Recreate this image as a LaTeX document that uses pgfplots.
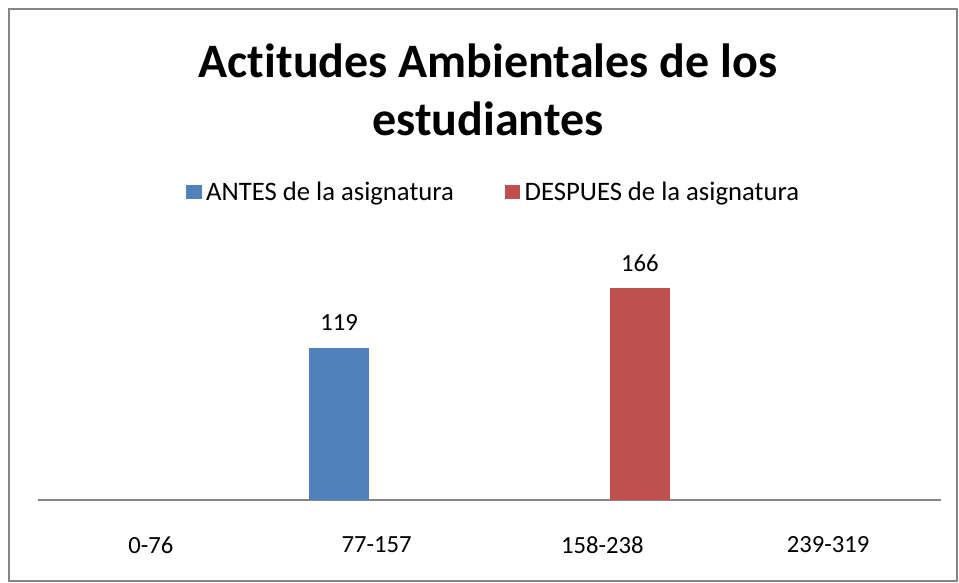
\documentclass[border=0pt]{standalone}
\usepackage{pgfplots}
\pgfplotsset{compat=1.18}
\usepackage{fontspec}
\setmainfont{Carlito}[Ligatures=NoCommon]
\definecolor{bblue}{HTML}{4F81BD}
\definecolor{bred}{HTML}{C0504D}
\definecolor{agray}{HTML}{868686}
\begin{document}
\begin{tikzpicture}
\useasboundingbox (0pt,0pt) rectangle (719.25pt,-436.5pt);
\draw[agray, line width=1.5pt] (6.4pt,-7.1pt) rectangle (717.6pt,-435.9pt);
\node[anchor=base, font=\fontsize{36}{42}\selectfont\bfseries] at (366pt,-57.75pt) {Actitudes Ambientales de los};
\node[anchor=base, font=\fontsize{36}{42}\selectfont\bfseries] at (366pt,-101.25pt) {estudiantes};
\begin{axis}[
  at={(28.5pt,-375pt)}, anchor=south west,
  scale only axis, width=677.25pt, height=187.5pt,
  ymin=0, ymax=195.7, xmin=-0.5, xmax=3.5,
  axis y line=none, axis x line*=bottom,
  x axis line style={agray, line width=1.1pt, -},
  ybar=11.25pt, bar width=45pt,
  xtick={0,1,2,3},
  xticklabels={0-76,77-157,158-238,239-319},
  major tick length=0pt,
  xticklabel style={anchor=center, yshift=-33.75pt, font=\fontsize{18.5}{22}\selectfont},
  /pgf/number format/assume math mode=true,
  nodes near coords,
  every node near coord/.append style={anchor=center, yshift=18.75pt, font=\fontsize{18.5}{22}\selectfont, black},
  legend style={at={(axis description cs:0.505,1.232)}, anchor=center, draw=none, legend columns=2,
    font=\fontsize{20}{24}\selectfont,
    /tikz/every odd column/.append style={column sep=1.5pt},
    /tikz/every even column/.append style={column sep=36pt}},
  legend image code/.code={\fill[#1] (0pt,-5.6pt) rectangle (11.5pt,5.6pt);},
]
\addplot[fill=bblue, draw=none] coordinates {(1,119)};
\addlegendentry{ANTES de la asignatura}
\addplot[fill=bred, draw=none] coordinates {(2,166)};
\addlegendentry{DESPUES de la asignatura}
\end{axis}
\end{tikzpicture}
\end{document}
